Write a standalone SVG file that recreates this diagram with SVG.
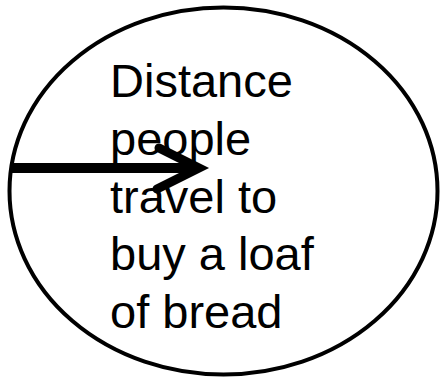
<svg xmlns="http://www.w3.org/2000/svg" width="440" height="378" viewBox="0 0 440 378">
<style>
.lbl{font-family:"Liberation Sans",Arial,sans-serif;font-size:47px;fill:#000}
</style>
<rect width="440" height="378" fill="#fff"/>
<g id="oval">
<ellipse cx="223.5" cy="191" rx="214" ry="183.5" fill="none" stroke="#000" stroke-width="4"/>
<text class="lbl" x="110" y="97">Distance</text>
<text class="lbl" x="110" y="155">people</text>
<text class="lbl" x="110" y="213">travel to</text>
<text class="lbl" x="110" y="270">buy a loaf</text>
<text class="lbl" x="110" y="328">of bread</text>
</g>
<g id="connectors">
<line x1="11" y1="168" x2="192" y2="168" stroke="#000" stroke-width="10"/>
<polyline points="159,148 199,168 157,189" fill="none" stroke="#000" stroke-width="9" stroke-linecap="round" stroke-linejoin="miter"/>
</g>
</svg>
